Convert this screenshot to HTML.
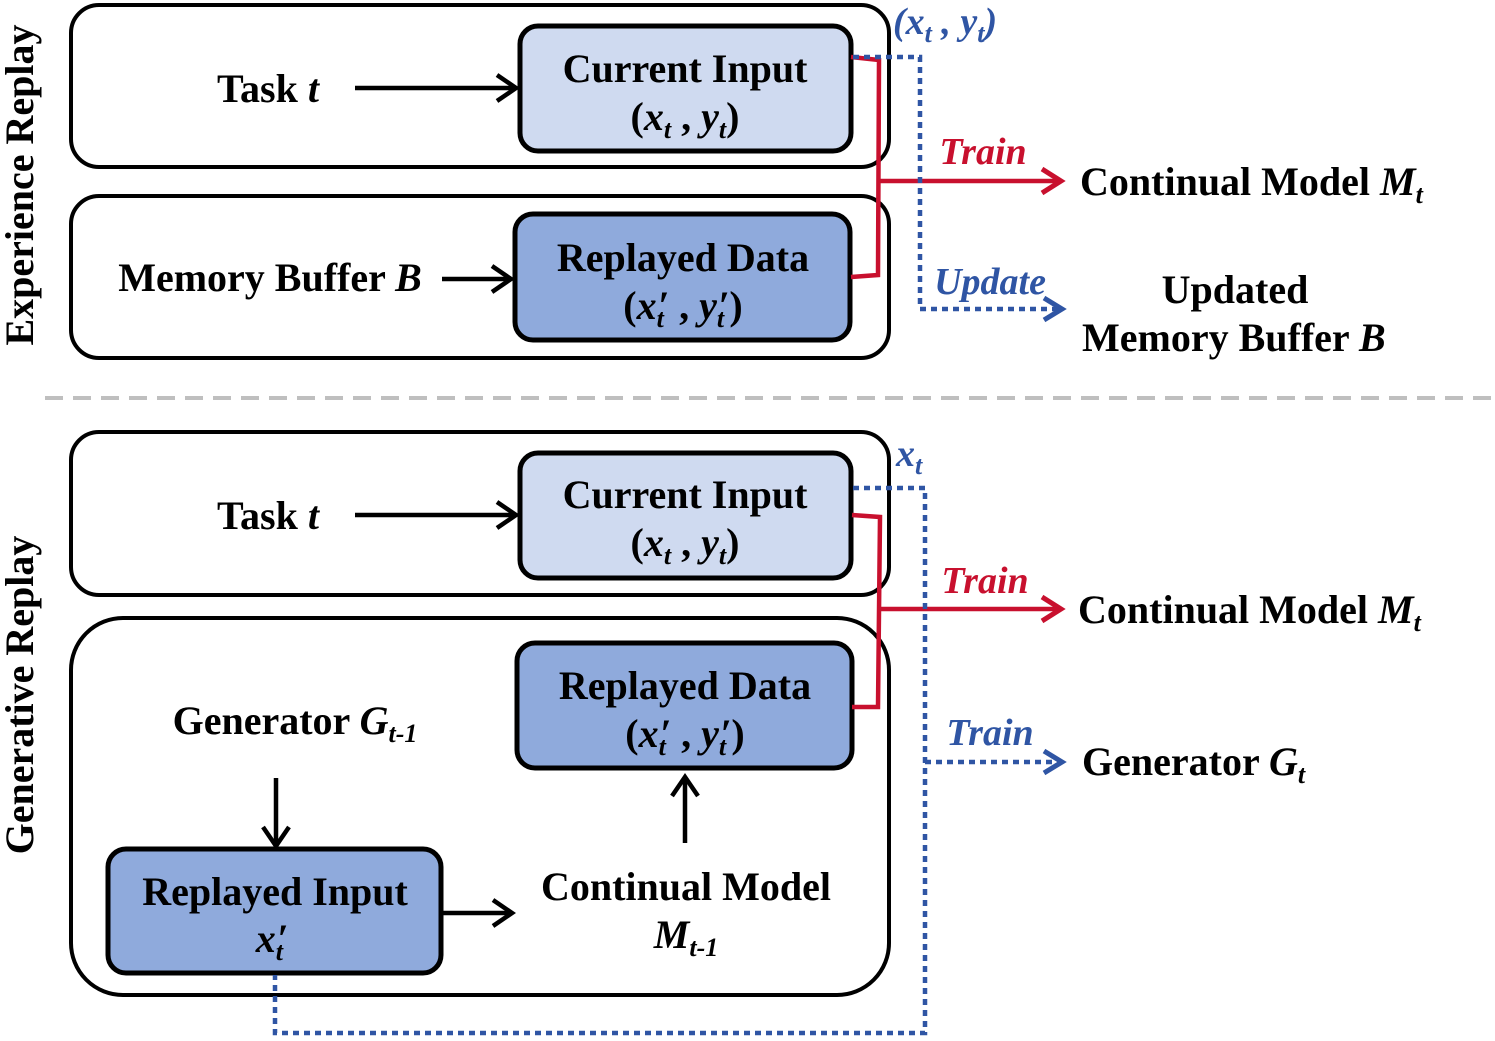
<!DOCTYPE html>
<html><head><meta charset="utf-8"><style>
html,body{margin:0;padding:0;background:#fff;}
svg{display:block;font-family:"Liberation Serif",serif;font-weight:bold;}
</style></head><body>
<svg width="1495" height="1041" viewBox="0 0 1495 1041" xmlns="http://www.w3.org/2000/svg">
<g fill="none" stroke="#000" stroke-width="4">
<rect x="71" y="5" width="818" height="162" rx="28"/>
<rect x="71" y="196" width="818" height="162" rx="28"/>
<rect x="71" y="432" width="818" height="163" rx="28"/>
<rect x="71" y="618" width="818" height="377" rx="52"/>
</g>
<g stroke="#000" stroke-width="5">
<rect x="520" y="26" width="331" height="125" rx="18" fill="#cfdaf0"/>
<rect x="515" y="214" width="335" height="126" rx="18" fill="#8faadc"/>
<rect x="520" y="453" width="331" height="125" rx="18" fill="#cfdaf0"/>
<rect x="517" y="643" width="335" height="125" rx="18" fill="#8faadc"/>
<rect x="108" y="849" width="333" height="124" rx="18" fill="#8faadc"/>
</g>
<g stroke="#000" stroke-width="4.5" fill="none">
<line x1="355" y1="88" x2="515" y2="88"/><polyline points="497,75 516,88 497,101"/>
<line x1="442" y1="279" x2="510" y2="279"/><polyline points="492,266 511,279 492,292"/>
<line x1="355" y1="515" x2="515" y2="515"/><polyline points="497,502 516,515 497,528"/>
<line x1="276" y1="778" x2="276" y2="845"/><polyline points="263,827 276,846 289,827"/>
<line x1="443" y1="913" x2="511" y2="913"/><polyline points="493,900 512,913 493,926"/>
<line x1="685" y1="843" x2="685" y2="778"/><polyline points="672,796 685,777 698,796"/>
</g>
<line x1="45" y1="398" x2="1495" y2="398" stroke="#bfbfbf" stroke-width="4" stroke-dasharray="18,10"/>
<g stroke="#c8102e" stroke-width="4.5" fill="none">
<polyline points="851,57 879,60 878,275 851,277"/>
<line x1="878" y1="181" x2="1060" y2="181"/><polyline points="1042,169 1061,181 1042,193" stroke-width="5"/>
<polyline points="852,515 880,517 878,707 852,707"/>
<line x1="878" y1="609" x2="1060" y2="609"/><polyline points="1042,597 1061,609 1042,621" stroke-width="5"/>
</g>
<g stroke="#2f55a4" stroke-width="4.5" fill="none" stroke-dasharray="6,5">
<polyline points="853,57 920,57 920,309 1060,309"/>
<polyline points="853,488 925,488 925,1033 275,1033 275,975"/>
<line x1="925" y1="762" x2="1060" y2="762"/>
</g>
<g stroke="#2f55a4" stroke-width="5" fill="none">
<polyline points="1044,298 1062,309 1044,320"/>
<polyline points="1044,751 1062,762 1044,773"/>
</g>
<g font-size="40" fill="#000">
<text x="268" y="102" text-anchor="middle">Task <tspan font-style="italic">t</tspan></text>
<text x="270" y="291" text-anchor="middle">Memory Buffer <tspan font-style="italic">B</tspan></text>
<text x="268" y="529" text-anchor="middle">Task <tspan font-style="italic">t</tspan></text>
<text x="685" y="82" text-anchor="middle">Current Input</text>
<text x="685" y="130" text-anchor="middle">(<tspan font-style="italic">x<tspan font-size="26" dy="8">t</tspan></tspan><tspan dy="-8"> , </tspan><tspan font-style="italic">y<tspan font-size="26" dy="8">t</tspan></tspan><tspan dy="-8">)</tspan></text>
<text x="683" y="271" text-anchor="middle">Replayed Data</text>
<text x="683" y="319" text-anchor="middle">(<tspan font-style="italic">x<tspan font-size="26" dy="8">t</tspan><tspan dx="-6" dy="-8">′</tspan></tspan><tspan> , </tspan><tspan font-style="italic">y<tspan font-size="26" dy="8">t</tspan><tspan dx="-6" dy="-8">′</tspan></tspan><tspan>)</tspan></text>
<text x="685" y="508" text-anchor="middle">Current Input</text>
<text x="685" y="556" text-anchor="middle">(<tspan font-style="italic">x<tspan font-size="26" dy="8">t</tspan></tspan><tspan dy="-8"> , </tspan><tspan font-style="italic">y<tspan font-size="26" dy="8">t</tspan></tspan><tspan dy="-8">)</tspan></text>
<text x="685" y="699" text-anchor="middle">Replayed Data</text>
<text x="685" y="747" text-anchor="middle">(<tspan font-style="italic">x<tspan font-size="26" dy="8">t</tspan><tspan dx="-6" dy="-8">′</tspan></tspan><tspan> , </tspan><tspan font-style="italic">y<tspan font-size="26" dy="8">t</tspan><tspan dx="-6" dy="-8">′</tspan></tspan><tspan>)</tspan></text>
<text x="275" y="905" text-anchor="middle">Replayed Input</text>
<text x="272" y="952" text-anchor="middle" font-style="italic">x<tspan font-size="26" dy="8">t</tspan><tspan dx="-6" dy="-8">′</tspan></text>
<text x="295" y="734" text-anchor="middle">Generator <tspan font-style="italic">G<tspan font-size="26" dy="8">t-1</tspan></tspan></text>
<text x="686" y="900" text-anchor="middle">Continual Model</text>
<text x="686" y="948" text-anchor="middle" font-style="italic">M<tspan font-size="26" dy="8">t-1</tspan></text>
<text x="1080" y="195">Continual Model <tspan font-style="italic">M<tspan font-size="26" dy="8">t</tspan></tspan></text>
<text x="1235" y="303" text-anchor="middle">Updated</text>
<text x="1082" y="351">Memory Buffer <tspan font-style="italic">B</tspan></text>
<text x="1078" y="623">Continual Model <tspan font-style="italic">M<tspan font-size="26" dy="8">t</tspan></tspan></text>
<text x="1082" y="775">Generator <tspan font-style="italic">G<tspan font-size="26" dy="8">t</tspan></tspan></text>
<text transform="translate(33,185) rotate(-90)" text-anchor="middle">Experience Replay</text>
<text transform="translate(33,695) rotate(-90)" text-anchor="middle">Generative Replay</text>
</g>
<g font-size="38" font-style="italic">
<text x="983" y="164" text-anchor="middle" fill="#c8102e">Train</text>
<text x="985" y="593" text-anchor="middle" fill="#c8102e">Train</text>
<text x="990" y="294" text-anchor="middle" fill="#2f55a4">Update</text>
<text x="990" y="745" text-anchor="middle" fill="#2f55a4">Train</text>
<text x="893" y="34" fill="#2f55a4">(x<tspan font-size="26" dy="8">t</tspan><tspan dy="-8"> , </tspan>y<tspan font-size="26" dy="8">t</tspan><tspan dy="-8">)</tspan></text>
<text x="896" y="466" fill="#2f55a4">x<tspan font-size="26" dy="8">t</tspan></text>
</g>
</svg>
</body></html>
